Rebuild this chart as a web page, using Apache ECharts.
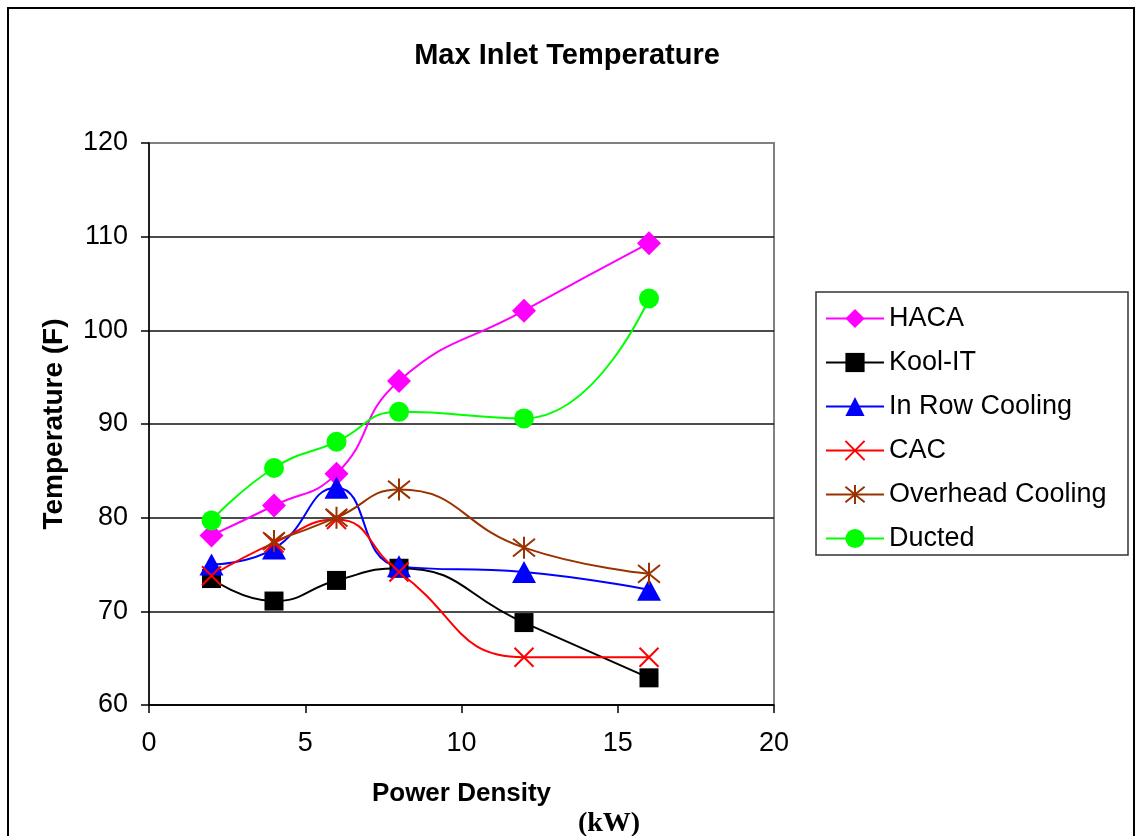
<!DOCTYPE html>
<html>
<head>
<meta charset="utf-8">
<title>Max Inlet Temperature</title>
<script src="https://cdn.jsdelivr.net/npm/echarts@6/dist/echarts.min.js"></script>
<style>
  html, body { margin: 0; padding: 0; background: #fff; }
  #chart { width: 1135px; height: 836px; }
</style>
</head>
<body>
<div id="chart"></div>
<script>
// Power density per rack (kW)
const powerDensity = [2, 4, 6, 8, 12, 16];

// Maximum inlet temperature (F) per cooling approach
const haca     = [78.1, 81.3, 84.7, 94.6, 102.1, 109.3];
const koolIT   = [73.5, 71.1, 73.3, 74.6, 68.8, 62.9];
const inRow    = [75.0, 76.7, 83.2, 74.8, 74.2, 72.3];
const cac      = [73.8, 77.3, 79.8, 74.2, 65.1, 65.1];
const overhead = [null, 77.5, 80.0, 83.0, 76.8, 74.0];
const ducted   = [79.7, 85.3, 88.1, 91.3, 90.6, 103.4];

const seriesNames = ['HACA', 'Kool-IT', 'In Row Cooling', 'CAC', 'Overhead Cooling', 'Ducted'];
const xTicks = [0, 5, 10, 15, 20];
const yTicks = [60, 70, 80, 90, 100, 110, 120];

const FONT = "'Liberation Sans', Arial, sans-serif";

function pairs(values) {
  return powerDensity.map((x, i) => [x, values[i]]);
}

const crossPath = 'path://M0,0L20,20M20,0L0,20';
const starPath = 'path://M0,2L20,18M20,2L0,18M10,0L10,20';

function lineSeries(name, values, color, symbol, size, stroked) {
  return {
    name: name,
    type: 'line',
    data: pairs(values),
    smooth: 0.5,
    connectNulls: false,
    symbol: symbol,
    symbolSize: size,
    showSymbol: true,
    lineStyle: { color: color, width: 2 },
    itemStyle: stroked
      ? { color: color, borderColor: color, borderWidth: 2 }
      : { color: color, borderWidth: 0 },
    emphasis: { disabled: true },
    animation: false
  };
}

const chart = echarts.init(document.getElementById('chart'), null, { renderer: 'canvas' });

chart.setOption({
  backgroundColor: '#ffffff',
  animation: false,
  title: [
    {
      text: 'Max Inlet Temperature',
      left: 562,
      textAlign: 'center',
      top: 36,
      textStyle: { fontFamily: FONT, fontWeight: 'bold', fontSize: 29, color: '#000' }
    },
    {
      text: '(kW)',
      left: 604,
      textAlign: 'center',
      top: 805,
      textStyle: { fontFamily: "'Liberation Serif', 'Times New Roman', serif", fontWeight: 'bold', fontSize: 28, color: '#000' }
    }
  ],
  graphic: [
    // outer frame
    { type: 'polyline', shape: { points: [[8, 840], [8, 8], [1134, 8], [1134, 840]] },
      style: { stroke: '#000', lineWidth: 2, fill: null }, silent: true },
    // legend box
    { type: 'rect', shape: { x: 816, y: 292, width: 312, height: 263 },
      style: { stroke: '#333', lineWidth: 1.5, fill: '#fff' }, silent: true, z: 1 }
  ],
  grid: {
    left: 149, top: 143, width: 625, height: 562,
    show: true, borderColor: '#808080', borderWidth: 2, backgroundColor: '#fff'
  },
  legend: {
    orient: 'vertical',
    left: 816, top: 292,
    padding: [13, 10, 10, 9],
    itemWidth: 58, itemHeight: 24, itemGap: 17,
    data: seriesNames,
    selectedMode: false,
    z: 5,
    textStyle: { fontFamily: FONT, fontSize: 27, color: '#000' }
  },
  xAxis: {
    type: 'value',
    min: xTicks[0], max: xTicks[xTicks.length - 1], interval: 5,
    name: 'Power Density',
    nameLocation: 'middle',
    nameGap: 76,
    nameTextStyle: { fontFamily: FONT, fontWeight: 'bold', fontSize: 26, color: '#000' },
    axisLine: { show: true, onZero: false, lineStyle: { color: '#000', width: 1.5 } },
    axisTick: { show: true, length: 8, lineStyle: { color: '#000', width: 1.5 } },
    axisLabel: { fontFamily: FONT, fontSize: 27, color: '#000', margin: 25 },
    splitLine: { show: false }
  },
  yAxis: {
    type: 'value',
    min: yTicks[0], max: yTicks[yTicks.length - 1], interval: 10,
    name: 'Temperature (F)',
    nameLocation: 'middle',
    nameRotate: 90,
    nameGap: 81,
    nameTextStyle: { fontFamily: FONT, fontWeight: 'bold', fontSize: 28, color: '#000' },
    axisLine: { show: true, onZero: false, lineStyle: { color: '#000', width: 1.5 } },
    axisTick: { show: true, length: 8, lineStyle: { color: '#000', width: 1.5 } },
    axisLabel: { fontFamily: FONT, fontSize: 27, color: '#000', margin: 21 },
    splitLine: {
      show: true,
      lineStyle: {
        color: ['#000', '#111', '#111', '#111', '#111', '#111', '#808080'],
        width: 1.5
      }
    }
  },
  series: [
    lineSeries(seriesNames[0], haca, '#ff00ff', 'diamond', 24, false),
    lineSeries(seriesNames[1], koolIT, '#000000', 'rect', 19, false),
    lineSeries(seriesNames[2], inRow, '#0000ff', 'triangle', [24, 22], false),
    lineSeries(seriesNames[3], cac, '#ff0000', crossPath, 19, true),
    lineSeries(seriesNames[4], overhead, '#993300', starPath, 22, true),
    lineSeries(seriesNames[5], ducted, '#00ff00', 'circle', 20, false)
  ]
});
</script>
</body>
</html>
